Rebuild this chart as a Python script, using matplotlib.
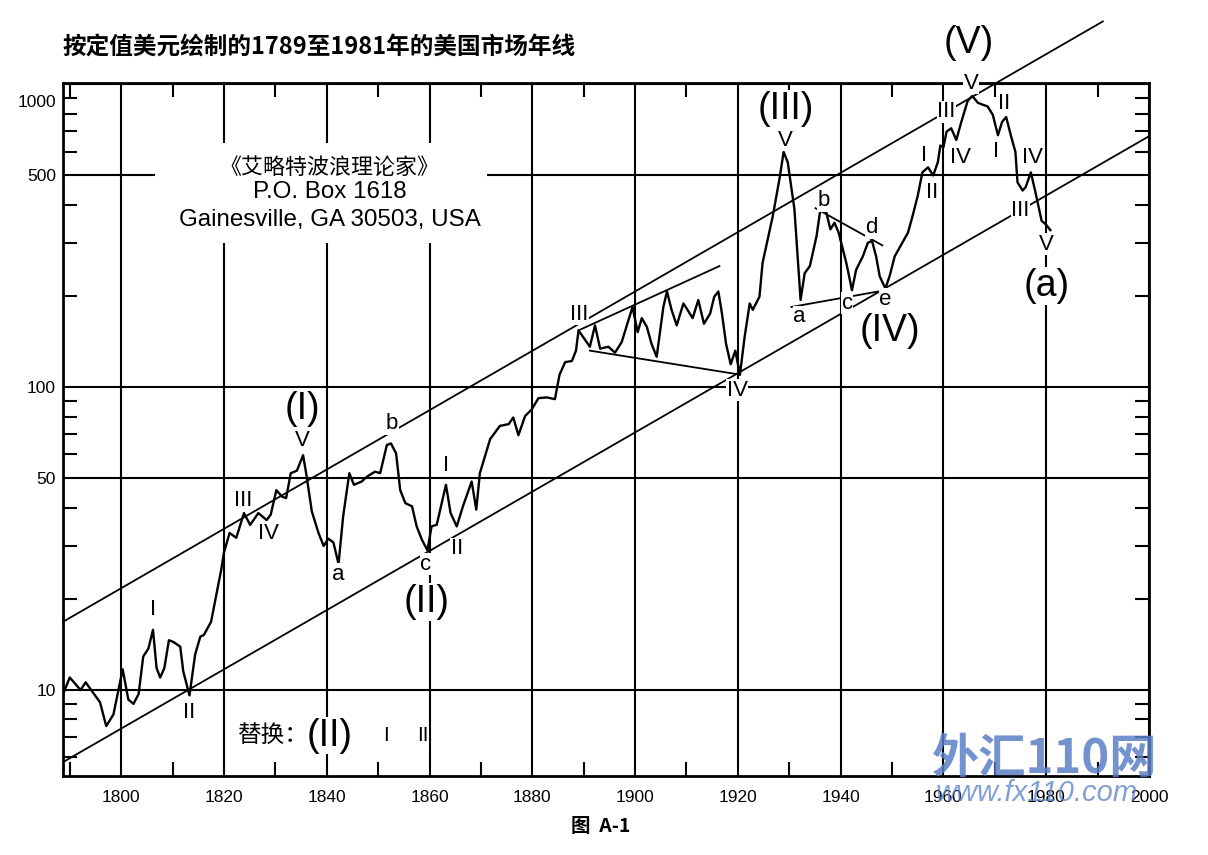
import matplotlib
matplotlib.use("Agg")
import numpy as np
import matplotlib.pyplot as plt
from matplotlib.patches import Rectangle
from matplotlib.transforms import ScaledTranslation
from matplotlib.ticker import FixedLocator, NullFormatter

# yearly market line, constant dollars
years = [1788.6, 1790.0, 1792.1, 1793.1, 1795.9, 1797.1, 1798.5, 1800.3, 1801.4, 1802.4,
         1803.4, 1804.3, 1805.3, 1806.2, 1806.9, 1807.6, 1808.4, 1809.3, 1810.2, 1811.5,
         1812.1, 1813.3, 1814.4, 1815.4, 1816.1, 1817.5, 1818.5, 1819.5, 1820.0, 1821.1,
         1822.4, 1823.9, 1825.1, 1826.7, 1828.3, 1829.1, 1830.2, 1831.3, 1832.1, 1833.0,
         1834.2, 1835.4, 1836.0, 1837.1, 1838.4, 1839.4, 1840.3, 1841.3, 1842.3, 1843.2,
         1844.4, 1845.3, 1846.8, 1847.8, 1849.4, 1850.4, 1851.7, 1852.5, 1853.5, 1854.3,
         1855.3, 1856.6, 1857.5, 1858.5, 1859.6, 1860.4, 1861.4, 1863.2, 1864.1, 1865.3,
         1866.5, 1868.2, 1869.1, 1869.8, 1871.8, 1873.7, 1875.4, 1876.3, 1877.3, 1878.6,
         1879.9, 1881.2, 1882.8, 1884.4, 1885.3, 1886.4, 1887.7, 1888.5, 1889.0, 1890.3,
         1891.2, 1892.2, 1893.2, 1894.8, 1896.1, 1897.4, 1898.4, 1899.5, 1900.5, 1901.3,
         1902.3, 1903.2, 1904.2, 1905.5, 1906.2, 1907.1, 1908.1, 1909.4, 1910.2, 1911.2,
         1912.3, 1913.4, 1914.6, 1915.4, 1916.2, 1916.9, 1917.7, 1918.6, 1919.5, 1920.4,
         1921.3, 1922.3, 1922.9, 1924.2, 1924.8, 1926.8, 1928.1, 1928.9, 1929.7, 1931.0,
         1932.2, 1933.0, 1934.0, 1935.3, 1936.2, 1937.2, 1938.0, 1938.8, 1939.6, 1941.1,
         1942.2, 1943.0, 1944.3, 1945.3, 1946.1, 1946.9, 1947.6, 1948.7, 1949.5, 1950.5,
         1951.8, 1953.1, 1954.0, 1955.0, 1955.9, 1957.0, 1958.0, 1958.9, 1959.4, 1960.0,
         1960.6, 1961.5, 1962.5, 1963.4, 1964.7, 1965.6, 1966.7, 1967.6, 1968.6, 1969.6,
         1970.6, 1971.4, 1972.2, 1973.1, 1974.0, 1974.4, 1975.4, 1976.0, 1977.0, 1977.9,
         1979.1, 1979.9, 1980.8]
values = [9.6, 11.0, 10.0, 10.6, 9.1, 7.6, 8.3, 11.7, 9.3, 9.0,
          9.7, 12.9, 13.7, 15.8, 11.8, 11.0, 11.8, 14.6, 14.4, 13.9,
          11.5, 9.6, 13.1, 15.0, 15.2, 16.8, 20.5, 25.1, 28.4, 33.0,
          31.8, 38.4, 35.1, 38.4, 36.4, 37.9, 45.7, 43.5, 43.0, 52.0,
          53.0, 59.6, 52.0, 38.9, 33.0, 29.9, 31.6, 30.7, 26.1, 37.5,
          52.0, 47.6, 48.8, 50.6, 52.6, 52.0, 64.4, 65.2, 60.4, 45.7,
          41.4, 40.4, 34.7, 31.4, 28.9, 34.7, 35.1, 47.6, 38.4, 34.7,
          40.4, 48.8, 39.4, 52.0, 67.4, 74.5, 75.5, 79.4, 69.4, 80.3,
          84.5, 92.0, 92.5, 91.3, 110, 121, 122, 132, 154, 143,
          136, 160, 134, 136, 130, 141, 160, 184, 152, 169,
          158, 139, 126, 184, 207, 180, 160, 189, 180, 169,
          194, 162, 175, 199, 207, 175, 139, 119, 132, 110,
          146, 189, 180, 199, 257, 368, 488, 598, 553, 387,
          194, 238, 251, 315, 402, 378, 332, 349, 324, 257,
          209, 244, 270, 300, 304, 270, 232, 212, 232, 270,
          296, 324, 368, 429, 512, 532, 500, 553, 628, 620,
          698, 716, 655, 744, 881, 915, 869, 857, 845, 793,
          679, 751, 780, 679, 598, 475, 446, 458, 512, 440,
          354, 345, 330]

# channel and trend lines (start/end points)
upper_x = [1788.7, 1991.0]
upper_y = [16.8, 1613]
lower_x = [1788.7, 2000.0]
lower_y = [5.78, 674]
tri_top_x = [1889.0, 1916.4]
tri_top_y = [154, 251]
tri_bot_x = [1891.2, 1920.4]
tri_bot_y = [132, 110]
ace_x = [1930.4, 1948.7]
ace_y = [184, 209]
bd_x = [1935.1, 1948.1]
bd_y = [390, 294]

# wave labels
lab_text = ["(I)", "V", "I", "II", "III", "IV", "a", "b", "c", "(II)", "I", "II",
            "III", "IV", "(III)", "V", "a", "b", "c", "d", "e", "(IV)",
            "I", "II", "III", "IV", "(V)", "V", "II", "I", "IV", "III", "V", "(a)"]
lab_year = [1835.2, 1835.2, 1806.2, 1813.2, 1823.7, 1828.6, 1842.2, 1852.7, 1859.3, 1859.5,
            1863.2, 1865.3, 1889.2, 1919.9, 1929.3, 1929.3, 1932.0, 1936.7, 1941.3, 1946.0,
            1948.7, 1949.5, 1956.3, 1957.7, 1960.6, 1963.3, 1965.0, 1965.4, 1971.8, 1970.3,
            1977.3, 1975.0, 1980.0, 1980.0]
lab_value = [84.9, 66.5, 18.4, 8.4, 42.4, 32.8, 24.1, 75.7, 26.0, 19.5,
             55.1, 29.3, 174, 97.8, 832, 654, 171, 413, 189, 336,
             195, 153, 584, 439, 813, 575, 1372, 1008, 862, 598,
             575, 384, 296, 216]

fam = ["Liberation Sans", "Noto Sans CJK SC", "DejaVu Sans"]
cjk = ["Noto Sans CJK SC", "DejaVu Sans"]
plt.rcParams["font.family"] = fam

fig = plt.figure(figsize=(12.08, 8.55), dpi=100)
ax = fig.add_axes([0.0522, 0.0924, 0.8990, 0.8105])
ax.set_yscale("log")
ax.set_xlim(1788.7, 2000)
ax.set_ylim(5.2, 1010)

ax.plot(years, values, color="black", lw=1.7, zorder=3)
for xs, ys in [(tri_top_x, tri_top_y), (tri_bot_x, tri_bot_y), (ace_x, ace_y), (bd_x, bd_y)]:
    ax.plot(xs, ys, color="black", lw=1.3, zorder=3)
ax.plot(lower_x, lower_y, color="black", lw=1.3, zorder=3)
ax.plot(upper_x, upper_y, color="black", lw=1.3, zorder=3, clip_on=False)

# ticks and grid
ax.xaxis.set_major_locator(FixedLocator(np.arange(1800, 2001, 20)))
ax.xaxis.set_minor_locator(FixedLocator(np.arange(1790, 2000, 20)))
ax.yaxis.set_major_locator(FixedLocator([10, 50, 100, 500, 1000]))
ax.set_yticklabels(["10", "50", "100", "500", "1000"])
minor_y = [6, 7, 8, 9, 20, 30, 40, 60, 70, 80, 90, 200, 300, 400, 600, 700, 800, 900]
ax.yaxis.set_minor_locator(FixedLocator(minor_y))
ax.yaxis.set_minor_formatter(NullFormatter())
ax.tick_params(which="major", length=0, labelsize=12.5)
ax.tick_params(axis="x", which="major", pad=10)
ax.tick_params(axis="y", which="major", pad=5)
ax.tick_params(which="minor", direction="in", length=10, width=1.5,
               top=True, bottom=True, left=True, right=True)
ax.grid(which="major", color="black", lw=1.5)
for s in ax.spines.values():
    s.set_linewidth(2)
# the original prints "1000" a little below the frame corner
for lab in ax.get_yticklabels():
    if lab.get_text() == "1000":
        lab.set_transform(lab.get_transform() + ScaledTranslation(0, -12 / 72, fig.dpi_scale_trans))

# labels on the waves
for t, x, y in zip(lab_text, lab_year, lab_value):
    big = t.startswith("(")
    ax.text(x, y, t, ha="center", va="center", fontsize=27 if big else 16,
            zorder=5, clip_on=False,
            bbox=dict(fc="white", ec="none", pad=0.5 if big else 0.3))

# address block on a white patch that cuts the grid
ax.add_patch(Rectangle((1806.6, 300), 1871.2 - 1806.6, 640 - 300,
                       fc="white", ec="none", zorder=4))
ax.text(1840.6, 528, "《艾略特波浪理论家》", ha="center", va="center",
        fontsize=15.8, family=cjk, zorder=5)
ax.text(1840.6, 440, "P.O. Box 1618", ha="center", va="center", fontsize=17.4, zorder=5)
ax.text(1840.6, 356, "Gainesville, GA 30503, USA", ha="center", va="center",
        fontsize=17.4, zorder=5)

ax.text(1829.4, 7.07, "替换：", ha="center", va="center", fontsize=17,
        family=cjk, zorder=5)
ax.text(1840.6, 7.07, "(II)", ha="center", va="center", fontsize=27, zorder=5,
        bbox=dict(fc="white", ec="none", pad=0.5))
ax.text(1851.5, 7.07, "I", ha="center", va="center", fontsize=15, zorder=5)
ax.text(1858.7, 7.07, "II", ha="center", va="center", fontsize=15, zorder=5,
        bbox=dict(fc="white", ec="none", pad=0.3))

fig.text(0.052, 0.945, "按定值美元绘制的1789至1981年的美国市场年线",
         fontsize=17, fontweight="bold", ha="left", va="center", family=cjk)
fig.text(0.497, 0.033, "图  A-1", fontsize=14, fontweight="bold", ha="center", va="center",
         family=cjk)

# site watermark
fig.text(0.865, 0.112, "外汇110网", fontsize=34, fontweight="bold", style="italic",
         color="#5a7fc6", alpha=0.85, ha="center", va="center", zorder=10, family=cjk)
fig.text(0.858, 0.072, "www.fx110.com", fontsize=21, style="italic",
         color="#5a7fc6", alpha=0.75, ha="center", va="center", zorder=10)

fig.savefig("out.png", dpi=100)
